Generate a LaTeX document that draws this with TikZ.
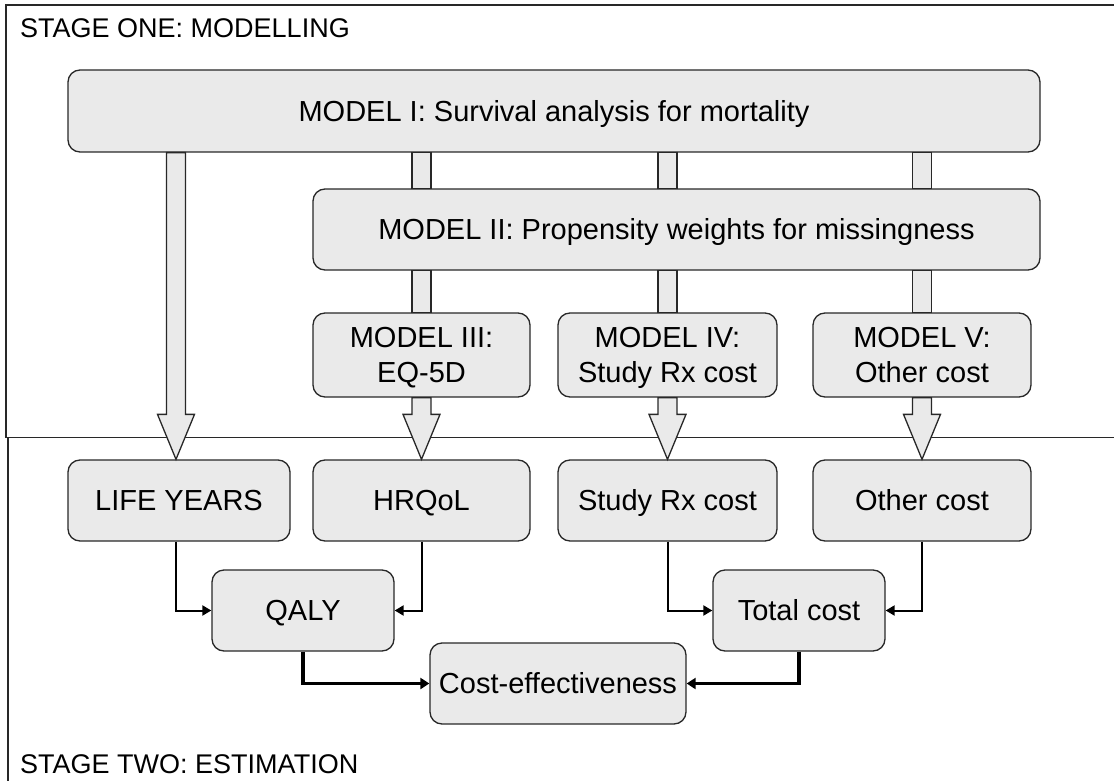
\documentclass[tikz,border=0pt]{standalone}
\usepackage{fontspec}
\setmainfont{Liberation Sans}
\usetikzlibrary{arrows.meta,calc}
\definecolor{boxfill}{RGB}{234,234,234}
\definecolor{edge}{RGB}{40,40,40}
\begin{document}
\begin{tikzpicture}[x=1pt,y=-1pt,
  boxnode/.style={draw=edge,line width=1.3pt,fill=boxfill,rounded corners=12pt,
    inner sep=0pt,align=center,font=\fontsize{29}{35}\selectfont},
  oneline/.style={boxnode,text height=20.8pt,text depth=0pt},
  stagelabel/.style={inner sep=0pt,anchor=west,font=\fontsize{27}{32}\selectfont},
  frameline/.style={draw=edge,line width=1.3pt},
  blockarr/.style={draw=edge,line width=1.3pt,fill=boxfill,line join=miter},
  conn/.style={draw=black,line width=2pt,-{Triangle[length=9pt,width=10pt]}},
  thickconn/.style={draw=black,line width=3.5pt,-{Triangle[length=9pt,width=11pt]}}
]
\useasboundingbox (0,0) rectangle (1114,781);
% frames
\draw[frameline] (1114,5) -- (6,5) -- (6,437.5) -- (1114,437.5);
\draw[frameline] (8,437.5) -- (8,781);
\node[stagelabel] (s1) at (20,28) {STAGE ONE: MODELLING};
\node[stagelabel] (s2) at (20,764) {STAGE TWO: ESTIMATION};
% model boxes
\node[oneline,minimum width=972pt,minimum height=82pt] (m1) at (554,111) {MODEL I: Survival analysis for mortality};
\node[oneline,minimum width=727pt,minimum height=81pt] (m2) at (676.5,229.5) {MODEL II: Propensity weights for missingness};
\node[boxnode,minimum width=217pt,minimum height=84pt] (m3) at (421.5,355) {MODEL III:\\\smash{EQ-5D}};
\node[boxnode,minimum width=219pt,minimum height=84pt] (m4) at (667.5,355) {MODEL IV:\\\smash{Study Rx cost}};
\node[boxnode,minimum width=218pt,minimum height=84pt] (m5) at (922,355) {MODEL V:\\\smash{Other cost}};
% outcome boxes
\node[oneline,minimum width=222pt,minimum height=81pt] (ly) at (179,500.5) {LIFE YEARS};
\node[oneline,minimum width=217pt,minimum height=81pt] (hq) at (421.5,500.5) {HRQoL};
\node[oneline,minimum width=219pt,minimum height=81pt] (sr) at (667.5,500.5) {Study Rx cost};
\node[oneline,minimum width=218pt,minimum height=81pt] (oc) at (922,500.5) {Other cost};
\node[oneline,minimum width=182pt,minimum height=81pt] (qaly) at (303,610.5) {QALY};
\node[oneline,minimum width=172pt,minimum height=81pt] (tc) at (799,610.5) {Total cost};
\node[oneline,minimum width=256pt,minimum height=81pt] (ce) at (558,683.5) {Cost-effectiveness};
% columns
\coordinate (c1) at (176,0);
\coordinate (c2) at (421.5,0);
\coordinate (c3) at (667.5,0);
\coordinate (c4) at (922,0);
% shafts between model boxes
\foreach \c in {c2,c3,c4}{
  \draw[blockarr] ($(\c |- m1.south)+(-9.5,0)$) rectangle ($(\c |- m2.north)+(9.5,0)$);
}
\draw[blockarr] ($(c2 |- m2.south)+(-9.5,0)$) rectangle ($(c2 |- m3.north)+(9.5,0)$);
\draw[blockarr] ($(c3 |- m2.south)+(-9.5,0)$) rectangle ($(c3 |- m4.north)+(9.5,0)$);
\draw[blockarr] ($(c4 |- m2.south)+(-9.5,0)$) rectangle ($(c4 |- m5.north)+(9.5,0)$);
% block arrows with heads
\foreach \c/\s/\t in {c1/m1/ly,c2/m3/hq,c3/m4/sr,c4/m5/oc}{
  \draw[blockarr] ($(\c |- \s.south)+(-9.5,0)$) -- ($(\c |- \t.north)+(-9.5,-45)$)
    -- ($(\c |- \t.north)+(-18.5,-45)$) -- (\c |- \t.north)
    -- ($(\c |- \t.north)+(18.5,-45)$) -- ($(\c |- \t.north)+(9.5,-45)$)
    -- ($(\c |- \s.south)+(9.5,0)$) -- cycle;
}
% elbow connectors
\draw[conn] (ly.south -| c1) |- (qaly.west);
\draw[conn] (hq.south) |- (qaly.east);
\draw[conn] (sr.south) |- (tc.west);
\draw[conn] (oc.south) |- (tc.east);
\draw[thickconn] (qaly.south) |- (ce.west);
\draw[thickconn] (tc.south) |- (ce.east);
\end{tikzpicture}
\end{document}
